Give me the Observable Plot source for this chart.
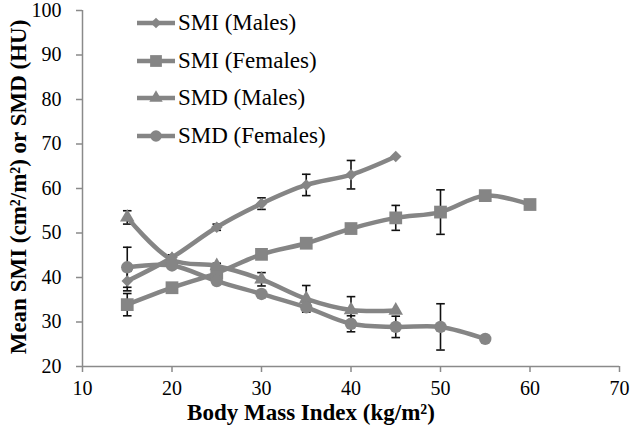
<!DOCTYPE html>
<html>
<head>
<meta charset="utf-8">
<script src="https://cdn.jsdelivr.net/npm/d3@7"></script>
<script src="https://cdn.jsdelivr.net/npm/@observablehq/plot@0.6"></script>
<style>
  html, body { margin: 0; padding: 0; background: #fff; }
  #wrap { position: relative; width: 630px; height: 437px; font-family: "Liberation Serif", "Times New Roman", serif; }
  #legend { position: absolute; left: 136px; top: 4px; }
  .lrow { display: flex; align-items: center; height: 37.7px; font-size: 23px; color: #000; }
  .lrow svg { display: block; margin-right: 2px; }
</style>
</head>
<body>
<div id="wrap"><div id="legend"></div></div>
<script>
// ---- data ----
const bmi = [15, 20, 25, 30, 35, 40, 45, 50, 55, 60];
const seriesNames = ["SMI (Males)", "SMI (Females)", "SMD (Males)", "SMD (Females)"];
const smiMales      = [39.2, 44.5, 51.3, 56.6, 60.8, 63.1, 67.2];
const smiMalesErr   = [2.2, 0.6, 0.7, 1.3, 2.4, 3.2, 0];
const smiFemales    = [33.9, 37.7, 41.0, 45.2, 47.7, 51.0, 53.4, 54.7, 58.4, 56.4];
const smiFemalesErr = [2.5, 0, 0, 0, 0, 0.8, 2.8, 5.0, 0, 0];
const smdMales      = [53.5, 44.0, 42.6, 39.6, 35.2, 32.7, 32.6];
const smdMalesErr   = [1.5, 0, 0.6, 1.5, 3.0, 3.0, 0];
const smdFemales    = [42.3, 42.7, 39.2, 36.3, 33.3, 29.6, 28.9, 28.9, 26.2];
const smdFemalesErr = [4.5, 0, 0, 0, 0.8, 1.8, 2.4, 5.2, 0];
const xTicks = [10, 20, 30, 40, 50, 60, 70];
const yTicks = [20, 30, 40, 50, 60, 70, 80, 90, 100];
const xTitle = "Body Mass Index (kg/m²)";
const yTitle = "Mean SMI (cm²/m²) or SMD (HU)";

// ---- styling ----
const GRAY = "#858585";
const AXIS = "#8a8a8a";
const series = [
  {name: seriesNames[0], values: smiMales,   err: smiMalesErr,   symbol: "diamond2", r: 5.2},
  {name: seriesNames[1], values: smiFemales, err: smiFemalesErr, symbol: "square",   r: 7.2},
  {name: seriesNames[2], values: smdMales,   err: smdMalesErr,   symbol: "triangle", r: 5.4},
  {name: seriesNames[3], values: smdFemales, err: smdFemalesErr, symbol: "circle",   r: 6.2}
];
const rows = series.flatMap(s => s.values.map((v, i) => ({series: s.name, x: bmi[i], y: v, err: s.err[i]})));
const errRows = rows.filter(d => d.err > 0);

const capSymbol = {
  draw(ctx, size) {
    const w = Math.sqrt(size / Math.PI);
    ctx.moveTo(-w, 0); ctx.lineTo(w, 0);
  }
};

const chart = Plot.plot({
  width: 630, height: 437,
  marginLeft: 82, marginRight: 11, marginTop: 10, marginBottom: 71,
  x: {domain: [10, 70]},
  y: {domain: [20, 100]},
  style: {fontFamily: "'Liberation Serif', 'Times New Roman', serif", fontSize: "20px", color: "#000", background: "#fff", overflow: "visible"},
  marks: [
    Plot.axisX({ticks: xTicks, tickSize: 6, tickPadding: 8, stroke: AXIS, strokeWidth: 1.5, label: null, fontSize: 20, fill: "#000"}),
    Plot.axisY({ticks: yTicks, tickSize: 6, tickPadding: 15, stroke: AXIS, strokeWidth: 1.5, label: null, fontSize: 20, fill: "#000"}),
    Plot.ruleY([20], {stroke: AXIS, strokeWidth: 1.5}),
    Plot.ruleX([10], {stroke: AXIS, strokeWidth: 1.5}),
    Plot.ruleX(errRows, {x: "x", y1: d => d.y - d.err, y2: d => d.y + d.err, stroke: "#111", strokeWidth: 1.6}),
    Plot.dot(errRows, {x: "x", y: d => d.y + d.err, symbol: capSymbol, r: 4.3, stroke: "#111", strokeWidth: 1.6, fill: "none"}),
    Plot.dot(errRows, {x: "x", y: d => d.y - d.err, symbol: capSymbol, r: 4.3, stroke: "#111", strokeWidth: 1.6, fill: "none"}),
    Plot.line(rows, {x: "x", y: "y", z: "series", stroke: GRAY, strokeWidth: 4.5, curve: "catmull-rom"}),
    ...series.map(s => Plot.dot(rows.filter(d => d.series === s.name), {x: "x", y: "y", symbol: s.symbol, r: s.r, fill: GRAY, stroke: "none"}))
  ]
});

const svg = d3.select(chart);
svg.append("text")
  .attr("x", 311).attr("y", 420)
  .attr("text-anchor", "middle")
  .attr("font-weight", "bold").attr("font-size", 23)
  .attr("font-family", "'Liberation Serif', 'Times New Roman', serif")
  .attr("fill", "#000")
  .text(xTitle);
svg.append("text")
  .attr("transform", "translate(26,187) rotate(-90)")
  .attr("text-anchor", "middle")
  .attr("font-weight", "bold").attr("font-size", 23)
  .attr("font-family", "'Liberation Serif', 'Times New Roman', serif")
  .attr("fill", "#000")
  .text(yTitle);

const wrap = document.getElementById("wrap");
wrap.insertBefore(chart, wrap.firstChild);

// legend
const legend = d3.select("#legend");
const symMap = {diamond2: d3.symbolDiamond2, square: d3.symbolSquare, triangle: d3.symbolTriangle, circle: d3.symbolCircle};
series.forEach(s => {
  const row = legend.append("div").attr("class", "lrow");
  const sv = row.append("svg").attr("width", 40).attr("height", 20);
  sv.append("line").attr("x1", 1).attr("x2", 39).attr("y1", 10).attr("y2", 10)
    .attr("stroke", GRAY).attr("stroke-width", 4.5);
  sv.append("path").attr("transform", "translate(20,10)")
    .attr("d", d3.symbol(symMap[s.symbol], Math.PI * s.r * s.r * 0.85)())
    .attr("fill", GRAY);
  row.append("span").text(s.name);
});
</script>
</body>
</html>
